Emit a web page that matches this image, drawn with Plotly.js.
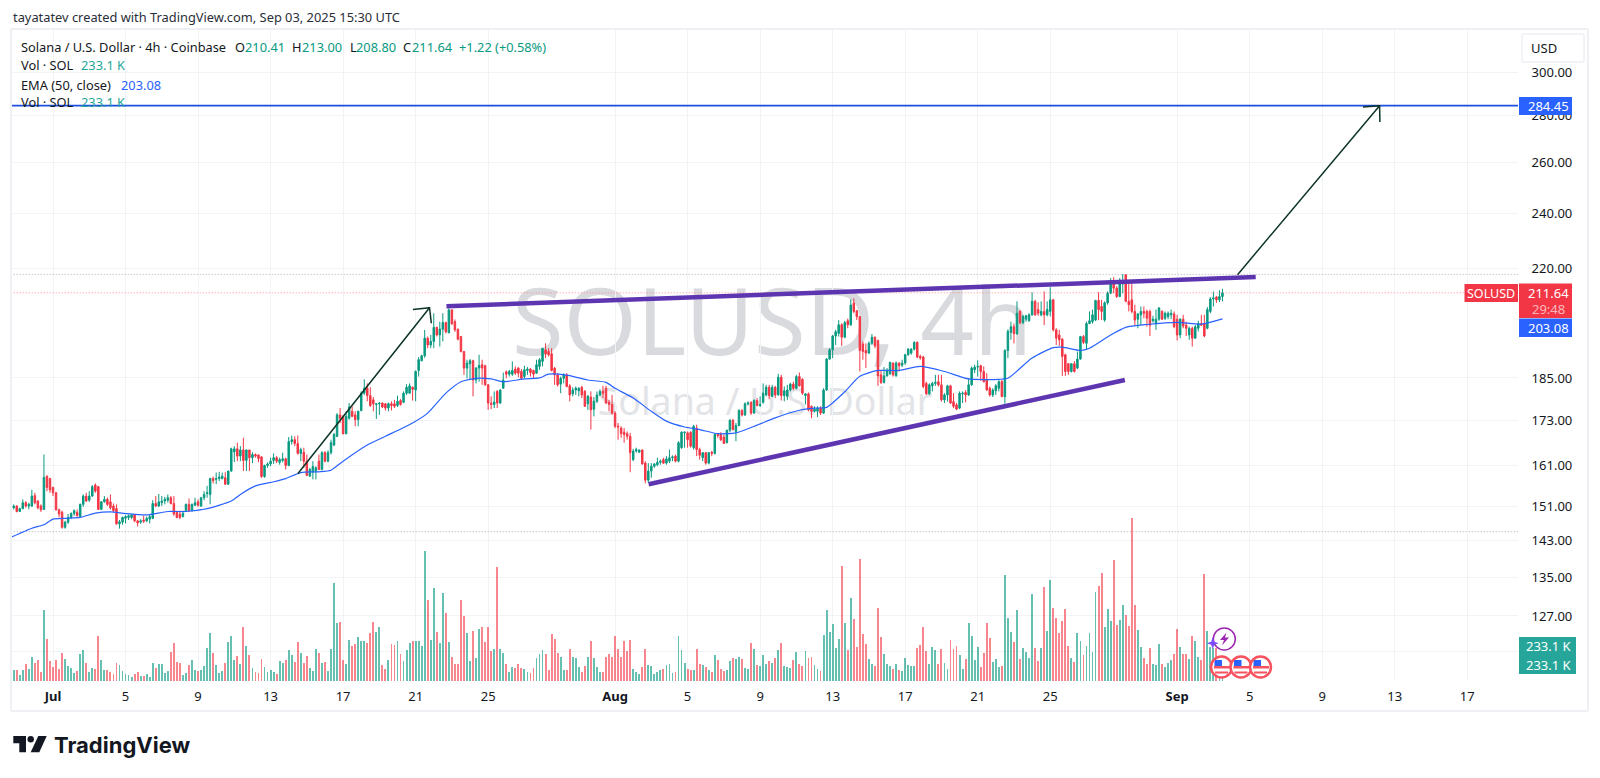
<!DOCTYPE html>
<html>
<head>
<meta charset="utf-8">
<script src="https://cdn.plot.ly/plotly-3.0.1.min.js"></script>
<style>html,body{margin:0;padding:0;background:#fff}#chart{width:1600px;height:778px}</style>
</head>
<body>
<div id="chart"></div>
<script>
// First bar is 14 bars before 1 Jul 2025 00:00; one bar every 4 hours.
const opens = [
148.4,150.7,151.1,149.8,150.5,151.9,151.1,151.1,153.6,152.3,151.1,150.3,158.4,157.8,
155.6,154.3,150.2,149.6,146.1,147.3,148.4,149.3,149.6,148.6,
151.5,153.5,152.5,153.5,156.2,155.8,150.3,152.1,152.7,152.1,
151.1,150.5,146.9,147.3,148.2,148.4,148.4,149,147.6,147.3,
147.8,147.6,148,148.2,151.7,151.1,151.9,152.3,152.5,153.1,
151.7,149.6,149.2,148.6,150,151.5,150,151.3,152.1,151.1,
153.1,154.1,153.9,157.8,157.6,157.8,157.8,158,156.4,159.7,
164.6,165.4,163.5,165.1,162.4,165.1,163.1,163.9,163.8,163.3,
158.3,161.1,161.5,162.4,163.1,161.9,162.4,162.8,161.1,167.3,
167.8,166.8,164.2,164.5,162.2,158.4,159.4,159.7,162.2,160.1,
164.4,162.2,164.4,166.4,168.7,174.5,174.1,169.4,173.6,175.5,
174.5,173.2,175.7,180.6,182,179.9,178.7,177.4,177.6,177.8,
177.6,176.4,177.6,177.6,177.1,178.5,178,180.6,180.6,182.3,
181.5,187.2,190.1,191.6,197,194.9,196,200.4,198,199.8,
201.9,198.7,206,202.2,199.8,197.5,192.9,187.9,189.2,190.1,
184.4,187.9,188.9,188.6,183,177.8,177.4,181.1,177.8,182,
186.8,186.1,186.1,187.6,187.9,186.9,185.4,187.2,187.6,187.2,
186.4,188.4,189.9,193.4,192.9,192.2,187.9,185.9,183.2,184.9,
185.9,182.7,180.4,181.5,181.3,182.3,181.1,177.6,179.5,176.1,
178.3,180.1,181.1,182,178,177.4,175,171.4,170.9,169.8,
169.4,168.7,162.6,164.8,164.5,165.1,161.7,157.4,159.7,160.9,
161.3,161.9,162.6,161.7,162.2,163.1,163.5,162.2,165.7,169.6,
169.6,169.8,165.7,170.9,165.2,163.1,164.4,161.7,164.5,164.2,
169.2,169.2,168.5,167,170.3,173,170,171.6,175.7,174.5,
177.6,178,175,178.5,177.1,178,180.1,182.3,179.7,182.3,
180.1,185.2,179.9,179.7,181.5,183.2,182,185.4,184.6,179.9,
180.4,176.9,175.5,175.5,176.4,175,181.5,190.6,193.4,197.7,
198.5,201.2,197.3,202.5,201.2,208.2,205.7,203.8,195.2,193.2,
192.4,195.4,197.3,196.3,185.9,183.7,185.6,186.2,189.4,185.6,
189.4,188.8,189.4,191.9,192.4,193.6,195.7,191.4,191.2,183.4,
180.4,182.7,183.4,183.9,183,178.7,180.1,182.7,178.2,177.3,
176.4,180.4,180.8,180.1,183,187.4,188.2,188.6,186.9,184.4,
182,180.1,181.3,182,183.9,179.6,193.2,198.8,200.6,198.4,
205.5,201.9,203,202.5,204.4,208.8,206.1,204.4,205.5,204.4,
205.5,209.3,199.6,198,196.7,191.9,189.2,186.9,189.2,187.9,
190.6,197.5,195.4,201.6,202.2,202.7,209.1,207.1,202.7,208.3,
211.5,215.8,213.2,210.4,214.6,217.7,208.8,209.3,205.5,203,
204.4,205.5,205.5,205.5,202.5,201.6,203,205.5,203.3,203.8,
204.4,204.7,203,198,203,201.1,198,200.1,197,200.1,
201.6,201.6,200.1,205.5,209.6,210.2,209.3,210.41];
const highs = [
153.1,151.5,151.3,150.7,152.7,152.3,151.9,155,154.3,152.5,151.5,163.9,158.6,158,
155.8,154.5,150.5,150,147.6,149.2,149.6,150.3,150.3,151.7,
153.9,154.3,154.7,156.2,156.6,156,152.3,153.5,153.1,153.9,
151.7,151.5,147.8,148.6,148.9,149.1,149.2,149.2,147.8,148,
148.8,148.6,149.2,152.5,153.5,154,153.5,153.3,153.9,153.5,
153.5,150,150,150,151.7,152.9,151.7,153.1,152.7,153.3,
154.7,156,158,158.3,159.3,159.5,159.3,159.4,159.7,165.7,
166.1,167,166.1,168.3,165.2,165.1,164.5,164.2,163.9,163.5,
161.3,161.9,163.1,164.2,163.5,163.1,164.4,163.1,168.5,168.9,
168.7,168.9,165.7,165.7,163.9,160.5,162.2,160.9,163.9,164.8,
164.8,165,167.8,169.6,175,176.4,174.5,175.5,177.8,176.9,
175.5,175.7,181.1,184.6,183.4,182.3,179.5,177.8,178,178,
177.8,178,178.3,178.7,179.9,178.9,181.1,183.2,183.4,182.5,
187.2,191.2,191.9,199.6,197.5,198,204.9,200.6,202.2,204.9,
202.2,206.5,206.2,202.9,200,197.7,192.9,190.4,190.6,190.4,
188.2,191.9,190.4,188.9,183.2,179.7,181.1,181.5,181.7,186.6,
187.2,187.4,189.9,188.4,188.2,187.6,188.6,188.2,187.9,187.4,
190.4,190.9,193.9,195.4,193.9,193.9,188.2,186.4,185.4,186.4,
186.4,183.2,182.3,182.5,182.3,182.7,181.5,180.1,181.1,179.5,
181.1,181.7,182.7,182.7,178.7,180.1,175.5,172.3,171.4,170.9,
170,169.6,165.4,165.7,165.2,165.2,162.2,161.7,161.7,161.7,
163.1,162.6,163.1,163.5,165.2,163.7,163.9,167.4,170,170,
170,170,171.8,171.8,165.7,164.5,164.5,164.5,164.8,169.4,
169.6,169.8,169.2,170.5,173.4,173.4,172.3,176.1,176.1,178,
178.3,178.3,178.9,179.2,179.7,183.4,183,183,183,182.7,
186.2,185.9,182.5,183,183.6,183.9,185.9,186.6,184.9,180.6,
180.8,177.1,176.9,176.9,176.9,182,190.9,193.9,198,199.6,
202.7,201.7,202.5,203.2,209.5,209.8,206,204,196,195.4,
196,198.3,197.5,196.5,187.2,188.2,187.9,189.8,189.6,189.9,
189.6,190.4,192.2,193.9,193.9,196,196,191.9,191.6,183.9,
183.4,183.9,185.9,185.9,185.9,180.6,183,183,180.6,177.8,
181.1,181.1,181.5,184.9,188.4,188.9,190.2,188.9,188.4,186.4,
182.5,182,183.2,184.4,184.4,193.6,199.8,202.2,201.6,208.8,
205.9,204.4,204.4,204.9,211.8,209.3,208.5,208.8,212.1,208.8,
213.5,209.6,200.1,199.6,197,192.2,189.4,189.4,190,192.9,
197.7,198,202.2,205.5,206.1,209.3,211.8,209.3,208.8,212.1,
216.6,216.9,213.9,216.6,218,218,214.9,214.9,207.7,204.9,
207.1,207.1,206.1,206.1,204.1,206.1,206.9,205.9,205.5,205.5,
206.1,205.5,204.4,203.3,204.4,202.2,200.6,200.6,201.1,202.5,
204.4,204.4,206.9,210.2,212.1,210.6,212.5,213];
const lows = [
148.4,150.3,149.6,149.8,150.3,150.7,150.3,150.9,151.5,150.3,149.7,150.2,154.7,154.3,
153.5,150,148.4,145.8,145.8,146.9,148,148.8,148.6,148.4,
150.9,152.1,152.1,153.3,154.3,150.3,150.2,151.9,151.1,150.3,
149.6,146.7,145.8,146.7,147,147.8,148,147.3,146.3,146.9,
147.1,147.3,147,148,150.9,150.9,151.1,151.5,151.9,151.5,
148.8,148.2,148,148.4,149.8,149.8,149.8,151.1,150.9,150.9,
152.5,153.1,151.5,156.6,156.4,157.2,157.6,156.2,156.2,159.5,
162,162.2,162.2,159.7,159.7,159.7,161.7,163.1,161.9,158,
158,160.5,160.9,161.5,161.7,161.3,161.9,160.1,160.9,166.5,
166.1,163.9,162.2,160.5,158.4,158.3,157.6,157.6,159.9,159.9,
161.9,161.9,163.9,166.1,168.5,172.3,169.2,169.2,173.2,173.9,
171.4,171.4,175.5,180.1,178.3,176.7,175.5,173.4,174.5,176.4,
175.7,175.5,175.7,176.4,176.7,177.1,177.8,180.1,180.4,178.5,
178.3,185.4,189.9,191,193.9,193.9,193.9,197.5,194.4,196,
198.5,198.5,201.2,199,196.3,192.6,185.9,184.9,184.4,179.7,
183.4,183.9,183,182.7,175.9,176.1,176.4,176.4,177.6,182,
184.9,185.4,185.6,185.9,185.2,184.4,184.9,185.9,185.4,184.9,
186.2,187.4,188.4,190.9,191.4,186.9,183,182.5,180.6,183.4,
182.3,178.3,179.7,180.1,179.7,179.2,176.7,175.9,170.5,174.1,
177.8,179.7,179.2,177.6,175.5,174.5,170.9,167.8,168.3,167,
167.8,159.4,162.2,164.4,164.4,161.3,156.6,156.8,158,160.5,
160.9,161.3,161.5,161.3,161.7,162.2,161.9,161.9,165.4,165.7,
165.7,165.7,165.2,163.5,162.6,162.2,161.3,161.4,163.5,163.9,
168.3,167.4,166.7,166.8,169.8,170.3,167.4,171.4,174.1,174.2,
177.1,174.5,174.8,176.9,176.7,177.6,179.7,178.9,179.5,179.2,
179.9,178.5,178.3,178.7,181.1,181.5,181.7,182.5,180.1,177.4,
175.5,173.6,175.2,173.9,174.5,174.8,181.3,190.4,190.9,194.9,
197.5,194.6,197,200.1,200.9,204.9,202.7,186.9,190.4,187.9,
192.2,194.9,193.9,182.7,183.2,183.4,185.4,185.9,185.4,185.4,
186.9,188.2,188.9,191.6,191.9,193.2,190.9,190.4,182,180.1,
180.1,181.1,182.7,182.5,178.2,177.8,178.2,177.6,176.4,175.9,
176.1,177.8,178,179.8,182.7,186.4,185.4,184.2,183.7,181.3,
179.6,179.5,180.1,181.1,179.5,177.6,190.9,196.5,195.4,198,
201.4,201.4,202.2,202.2,204.1,204.1,204.1,203.9,201.1,203.9,
203.9,199.1,194.9,194.6,185.6,185.6,185.9,186.6,186.6,187.6,
190.4,195.2,193.6,201.4,201.6,202.4,202.7,202.7,202.2,207.7,
211.2,211.5,209.9,210.2,211.5,208.5,205.5,204.9,201.1,200.1,
201.1,203.3,200.6,197.7,201.9,199.6,202.5,202.7,202.7,203,
203,200.1,196.3,197,200.1,197.7,196.5,194.4,196.8,199.1,
200.8,197.3,199.8,204.9,207.1,208.3,208.6,208.8];
const closes = [
150.7,151.1,149.8,150.5,151.9,151.1,151.5,153.5,151.9,150.7,150.2,158.1,155.6,155,
154.3,150.2,149.2,146.1,147.3,148.4,149.3,150,148.8,151.5,
153.5,152.3,153.5,155.8,154.7,150.3,152.1,152.7,151.5,150.7,
150,146.9,147.4,148.4,148.6,148.8,149,147.6,147.1,147.6,
147.5,148.2,148.6,151.7,151.1,152.1,152.3,152.7,153.1,151.7,
149.2,148.4,148.4,149.3,151.5,150,151.5,151.9,151.3,153.1,
153.9,154.3,157.8,157.3,157.8,158.2,158.4,156.4,159.7,165.4,
165.4,163.5,165.1,162.4,165.1,163.1,163.9,163.5,162.9,158.3,
161.1,161.5,162.2,163.1,162.2,162.6,162.8,161.1,167.3,167.8,
166.8,164.2,165.2,162.2,158.6,160.1,160.8,160.5,160.1,164.4,
162.2,164.4,167,169.2,174.5,173.6,169.4,174.1,176.7,174.1,
173.2,175.5,180.6,182,179.9,177.1,177.6,177.6,177.8,176.7,
176.4,177.6,177.1,176.9,178.3,177.4,180.6,182.3,182.7,181.7,
186.9,190.4,191.6,197,194.9,196,200.4,198,199.9,201.9,
199,206,201.5,199.6,196.7,192.9,187.9,189.4,190.1,184.4,
187.9,188.7,187.9,183,177.8,177.4,178.1,177.8,181.5,184.4,
186.1,186.9,187.2,186.4,186.4,184.9,187.4,187.6,186.6,186.1,
188.9,190.4,193.9,192.2,191.9,187.2,185.9,183,184.9,185.9,
182.5,180.1,181.5,182,182,180.1,176.9,179.7,175.9,178.3,
180.1,181.1,180.6,177.8,177.4,175,171.4,171.2,169.4,169.2,
168.7,164.4,164.8,165.2,165.1,161.5,157.4,159.7,160.9,161.5,
161.9,162.2,161.7,162.8,163.1,163.3,162.2,167,169.8,169.8,
167.8,166.1,171.4,165.2,163.7,164.4,161.7,164.4,164.2,169.2,
168.9,167.8,166.8,170.3,173,170.5,171.6,175.7,174.5,177.6,
177.8,175,178.5,177.1,177.4,180.6,182.3,179.9,182.3,180.1,
185.2,179.9,181.3,181.5,183.2,182,185.4,182.7,180.6,180.4,
175.9,175.5,176.1,176.4,175,181.5,190.6,193.4,197.7,199,
201.2,197.3,201.9,201.2,207.6,205.5,203.8,193.2,192.9,192.4,
195.4,197.3,194.6,185.6,183.7,185.6,187.2,189.6,185.9,189.4,
188.6,189.4,191.9,193.6,193.6,195.7,191.2,190.9,182.5,180.4,
183,183.4,183.7,183,178.7,180.1,182.7,177.8,176.9,176.1,
180.6,180.6,180.1,183,187.9,188.2,188.4,186.9,183.9,181.5,
180.1,181.5,182.7,183.9,179.6,193.2,199.1,200.6,198.4,204.9,
201.9,203.9,204.1,204.4,208.8,204.4,204.9,205.5,204.4,206.1,
209.3,199.6,197,196.5,191.4,186.9,186.9,189.2,186.9,190.6,
197.5,195.7,201.6,202.5,204.4,209.1,206.1,205.5,208.3,211.5,
215.8,213.2,210.4,214.9,214.9,208.8,207.7,205.5,202.7,204.7,
205.5,204.9,203.3,201.1,203,203,206.6,203,204.9,204.9,
204.9,200.6,198,203,200.8,200.1,200.1,197,200.6,201.6,
201.1,197.7,206.1,209.6,209.9,209.3,210.42,211.64];
// Volume in thousands of SOL
const volumes = [
333,99,99,54,99,150,108,219,159,189,84,639,378,180,
129,189,108,249,195,135,114,69,93,243,
276,165,84,117,108,405,189,99,99,81,
63,159,144,93,60,54,39,63,78,45,
45,63,33,159,120,156,150,72,90,261,
339,171,159,54,72,144,189,99,93,99,
135,294,435,252,144,72,87,159,348,405,
189,228,150,483,315,237,117,84,69,198,
126,81,99,78,63,180,165,189,276,234,
174,348,252,165,228,117,93,285,252,165,
174,93,291,879,519,531,189,156,369,315,
333,396,360,357,345,429,531,444,483,144,
108,189,333,324,363,243,180,279,342,357,
357,357,315,1173,729,369,837,441,339,789,
615,348,219,156,156,729,582,432,180,450,
204,465,489,348,483,267,285,1029,291,249,
150,78,123,117,156,117,108,84,69,117,
204,243,276,243,99,420,378,252,213,99,
99,285,219,204,126,78,132,213,363,204,
126,84,84,213,243,213,405,291,213,363,
267,369,108,78,63,126,291,141,132,63,
78,99,108,141,156,72,84,405,276,165,
108,99,99,285,156,141,126,99,84,234,
189,108,93,99,180,204,195,219,198,117,
108,339,291,141,132,234,156,180,165,204,
276,339,132,126,117,189,261,156,132,267,
204,213,141,108,93,411,639,441,513,300,
378,1038,519,276,744,555,306,1101,420,330,
198,156,135,657,396,243,156,135,108,156,
99,93,204,141,135,135,300,324,489,267,
150,306,276,150,285,165,108,369,291,315,
234,108,198,519,405,189,306,126,252,519,
387,171,198,126,135,951,567,441,348,639,
198,300,258,204,783,300,180,300,846,450,
909,657,567,432,537,648,315,204,171,432,
363,234,315,432,258,798,855,972,489,648,
537,1086,504,552,681,594,498,1464,681,456,
306,204,150,300,150,141,330,150,126,165,
189,243,465,306,243,243,198,405,363,213,
189,966,450,309,294,300,120,233.1];
// EMA(50) read at these bars (bars since 1 Jul 00:00)
const emaBars = [-14,-7,-3,0,4,9,14,19,24,31,38,44,51,59,62,67,73,77,82,88,92,96,104,110,119,124,130,135,140,145,149,156,161,164,170,177,183,186,192,198,203,209,214,220,226,233,239,247,252,256,262,267,273,280,287,295,303,313,316,324,331,334,340,343,350,355,362,372,380,387];
const emaValues = [143.8,145.9,146.7,148,148.2,148.4,149.4,149.7,149.3,149,149.8,149.8,150.5,152.3,153.9,156,157,157.8,159.3,159.5,159.9,162.2,166.4,168.7,172.3,175,180.6,183.9,184.9,184.7,183.9,184.7,185,186.1,185.8,184.4,183.7,182,179.2,175.5,172.8,171.2,170.5,169.4,169.6,171.7,173.7,175.8,176.4,176.6,181,185.5,187.2,187.2,188.4,186.9,184.7,184.6,184.9,190.9,194.1,194.2,193.2,193.9,198,200.4,201.3,202,201.4,203.08];
const priceTicks = [300,280,260,240,220,185,173,161,151,143,135,127,120];
const priceTickText = ['300.00','280.00','260.00','240.00','220.00','185.00','173.00','161.00','151.00','143.00','135.00','127.00',''];
const dateTicks = ['2025-07-01','2025-07-05','2025-07-09','2025-07-13','2025-07-17','2025-07-21','2025-07-25','2025-08-01','2025-08-05','2025-08-09','2025-08-13','2025-08-17','2025-08-21','2025-08-25','2025-09-01','2025-09-05','2025-09-09','2025-09-13','2025-09-17'];
const dateTickText = ['<b>Jul</b>','5','9','13','17','21','25','<b>Aug</b>','5','9','13','17','21','25','<b>Sep</b>','5','9','13','17'];
// Drawings, as [bar, price]
const targetPrice = 284.45, lastPrice = 211.64, rangeHigh = 217.9, rangeLow = 145.1;
const upperTrend = {bars:[130.2,398], prices:[207.2,217]};
const lowerTrend = {bars:[197.1,354.7], prices:[156.4,184.4]};
const arrow1 = {bars:[81,124.6,119.1,124.6,125.2], prices:[159,206.7,206.1,206.7,201.7]};
const arrow2 = {bars:[392,439,433.5,439,439.1], prices:[217.8,284.45,283.9,284.45,277.2]};

const FONT = '"Noto Sans", sans-serif', INK = '#131722';
const GREEN = '#089981', RED = '#f23645', BLUE = '#2962ff', TEAL = '#26a69a';
const L = 11, R = 1518, T = 29, B = 681, W = 1600, H = 778;
const BAR_MS = 4 * 3600e3, ORIGIN = Date.UTC(2025, 6, 1);
const dateOf = k => new Date(ORIGIN + k * BAR_MS).toISOString().slice(0, 19);
const dates = closes.map((_, i) => dateOf(i - 14));
const px = x => (x - L) / (R - L), py = y => (B - y) / (B - T);

const flat = (v, color, dash, width) => ({type:'scatter', mode:'lines', x:[dateOf(-14), dateOf(485)], y:[v, v], yaxis:'y',
  line:{color, dash, width}, hoverinfo:'skip', showlegend:false});
const poly = (o, color, width) => ({type:'scatter', mode:'lines', x:o.bars.map(dateOf), y:o.prices, yaxis:'y',
  line:{color, width}, hoverinfo:'skip', showlegend:false});

const traces = [
  {type:'bar', x:dates, y:volumes, yaxis:'y2', width:BAR_MS * 0.62,
   marker:{color:closes.map((c, i) => c >= opens[i] ? 'rgba(8,153,129,0.62)' : 'rgba(242,54,69,0.6)'), line:{width:0}},
   hoverinfo:'skip', showlegend:false},
  flat(rangeHigh, '#a9acb4', '1px,2px', 1),
  flat(rangeLow, '#a9acb4', '1px,2px', 1),
  flat(lastPrice, '#ff8a95', '1px,2px', 1),
  {type:'candlestick', x:dates, open:opens, high:highs, low:lows, close:closes, yaxis:'y',
   increasing:{line:{color:GREEN, width:1}, fillcolor:GREEN},
   decreasing:{line:{color:RED, width:1}, fillcolor:RED},
   whiskerwidth:0, hoverinfo:'skip', showlegend:false},
  {type:'scatter', mode:'lines', x:emaBars.map(dateOf), y:emaValues, yaxis:'y',
   line:{color:BLUE, width:1.2, shape:'spline', smoothing:0.6}, hoverinfo:'skip', showlegend:false},
  flat(targetPrice, '#1a4fe0', 'solid', 1.7),
  poly(upperTrend, '#5e35b1', 4.5),
  poly(lowerTrend, '#5e35b1', 4.5),
  poly(arrow1, '#0c3327', 1.5),
  poly(arrow2, '#0c3327', 1.5)
];

const ann = [];
function text(x, y, str, color, size, anchor, family) {
  ann.push({xref:'paper', yref:'paper', x:px(x), y:py(y), xanchor:anchor || 'left', yanchor:'middle', showarrow:false,
    text:str, align:anchor || 'left', font:{family:family || FONT, size:size || 12.8, color:color || INK}});
}
text(11, 17, 'tayatatev created with TradingView.com, Sep 03, 2025 15:30 UTC', '#2a2e39', 12.85);
text(19, 47, 'Solana / U.S. Dollar · 4h · Coinbase');
text(233, 47, 'O'); text(243, 47, '210.41', GREEN);
text(290, 47, 'H'); text(299.5, 47, '213.00', GREEN);
text(347.5, 47, 'L'); text(354, 47, '208.80', GREEN);
text(401, 47, 'C'); text(410, 47, '211.64', GREEN);
text(457, 47, '+1.22 (+0.58%)', GREEN);
text(19, 65.5, 'Vol · SOL'); text(79, 65.5, '233.1 K', TEAL);
text(19, 84.5, 'EMA (50, close)'); text(119, 84.5, '203.08', BLUE);
text(19, 102.5, 'Vol · SOL'); text(79, 102.5, '233.1 K', TEAL);
// price tags
text(1548, 106, '284.45', '#fff', 13, 'center');
text(1548, 293, '211.64', '#fff', 13, 'center');
text(1548, 309, '29:48', 'rgba(255,255,255,0.65)', 13, 'center');
text(1548, 327.5, '203.08', '#fff', 13, 'center');
text(1490.5, 293, 'SOLUSD', '#fff', 12.5, 'center');
text(1549.5, 646, '233.1 K', '#fff', 13, 'center');
text(1549.5, 664.5, '233.1 K', '#fff', 13, 'center');
text(1544, 48, 'USD', INK, 13, 'center');
// footer logo word
text(52, 744.5, '<b>TradingView</b>', '#131722', 22, 'left', 'Inter, sans-serif');

const rect = (x0, y0, x1, y1, fill, extra) => Object.assign({type:'rect', xref:'paper', yref:'paper',
  x0:px(x0), x1:px(x1), y0:py(y0), y1:py(y1), fillcolor:fill, line:{width:0}, layer:'above'}, extra || {});
const circle = (cx, cy, r, fill, lineColor, lw) => ({type:'circle', xref:'paper', yref:'paper',
  x0:px(cx - r), x1:px(cx + r), y0:py(cy + r), y1:py(cy - r), fillcolor:fill, line:{color:lineColor, width:lw}, layer:'above'});
const hline = (x0, y0, x1, y1, color, w) => ({type:'line', xref:'paper', yref:'paper', x0:px(x0), x1:px(x1), y0:py(y0), y1:py(y1), line:{color, width:w}, layer:'above'});
const path = (pts, fill) => ({type:'path', xref:'paper', yref:'paper', layer:'above', fillcolor:fill, line:{width:0},
  path:'M' + pts.map(p => px(p[0]).toFixed(5) + ',' + py(p[1]).toFixed(5)).join('L') + 'Z'});

const shapes = [
  // watermark under the candles
  {type:'rect', xref:'paper', yref:'paper', x0:px(407), x1:px(1137), y0:py(270), y1:py(380), layer:'below',
   fillcolor:'rgba(0,0,0,0)', line:{width:0},
   label:{text:'SOLUSD, 4h', textposition:'middle center', font:{family:FONT, size:94, color:'#d8dadd'}}},
  {type:'rect', xref:'paper', yref:'paper', x0:px(500), x1:px(1030), y0:py(380), y1:py(426), layer:'below',
   fillcolor:'rgba(0,0,0,0)', line:{width:0},
   label:{text:'Solana / U.S. Dollar', textposition:'middle center', font:{family:FONT, size:37.5, color:'#e3e4e7'}}},
  // frame
  hline(11, 29, 1588, 29, '#eef0f3', 2), hline(11, 29, 11, 711, '#eef0f3', 2),
  hline(1588, 29, 1588, 711, '#eef0f3', 2), hline(11, 711, 1588, 711, '#eef0f3', 2),
  // tags
  rect(1522, 34, 1584, 62, '#fff', {line:{color:'#e6e8ee', width:1}}),
  rect(1519, 97, 1572, 115, BLUE),
  rect(1519, 283.5, 1572, 318, RED),
  rect(1519, 318.5, 1572, 337, BLUE),
  rect(1464.5, 284, 1518, 302, RED),
  rect(1519, 637, 1576, 674, TEAL),
  // logo
  path([[13.3,736],[26,736],[26,752.3],[19.3,752.3],[19.3,743.3],[13.3,743.3]], '#131722'),
  circle(30.7, 739.3, 3.2, '#131722', '#131722', 0),
  path([[38.3,736],[46.7,736],[39.3,752.3],[30.7,752.3]], '#131722'),
  // events
  circle(1224.3, 639, 11, '#fff', '#9c27b0', 1.5),
  path([[1226.5,632.5],[1220,640],[1224,640],[1222,645.5],[1229,637.5],[1225,637.5]], '#9c27b0'),
  path([[1212.7,637.3],[1214.2,641.8],[1218.7,643.3],[1214.2,644.8],[1212.7,649.3],[1211.2,644.8],[1206.7,643.3],[1211.2,641.8]], '#7c4dff')
];
[1221.5, 1241, 1260.5].forEach(cx => {
  shapes.push(circle(cx, 667, 10.5, '#fff', 'rgba(0,0,0,0)', 0));
  shapes.push(rect(cx - 7.5, 666, cx + 8.5, 668.5, '#f7525f'));
  shapes.push(rect(cx - 6.5, 671.5, cx + 6.5, 673.5, '#f7525f'));
  shapes.push(rect(cx - 7, 660, cx + 0.5, 666, '#2962ff'));
  shapes.push(circle(cx, 667, 10.5, 'rgba(0,0,0,0)', '#f7525f', 2.5));
});

const layout = {
  width:W, height:H, autosize:false, margin:{l:L, r:W - R, t:T, b:H - B, pad:0},
  paper_bgcolor:'#fff', plot_bgcolor:'#fff', showlegend:false, boxgap:0.3, bargap:0,
  font:{family:FONT, color:INK, size:13},
  xaxis:{type:'date', range:[dateOf(-13.9), dateOf(484.8)], tickmode:'array', tickvals:dateTicks, ticktext:dateTickText,
    rangeslider:{visible:false}, showgrid:true, gridcolor:'#f2f3f6', gridwidth:1, zeroline:false, showline:false,
    ticks:'outside', ticklen:3, tickcolor:'rgba(0,0,0,0)', tickfont:{family:FONT, size:13, color:INK}, anchor:'y'},
  yaxis:{type:'log', overlaying:'y2', side:'right', range:[Math.log10(114.6), Math.log10(321.1)], tickmode:'array',
    tickvals:priceTicks, ticktext:priceTickText, showgrid:true, gridcolor:'#f2f3f6', gridwidth:1, zeroline:false, showline:false,
    ticks:'outside', ticklen:10, tickcolor:'rgba(0,0,0,0)', tickfont:{family:FONT, size:13, color:INK}},
  yaxis2:{type:'linear', range:[0, 652 * 9], visible:false, fixedrange:true},
  annotations:ann, shapes
};
Plotly.newPlot('chart', traces, layout, {staticPlot:true, displayModeBar:false});
</script>
</body>
</html>
